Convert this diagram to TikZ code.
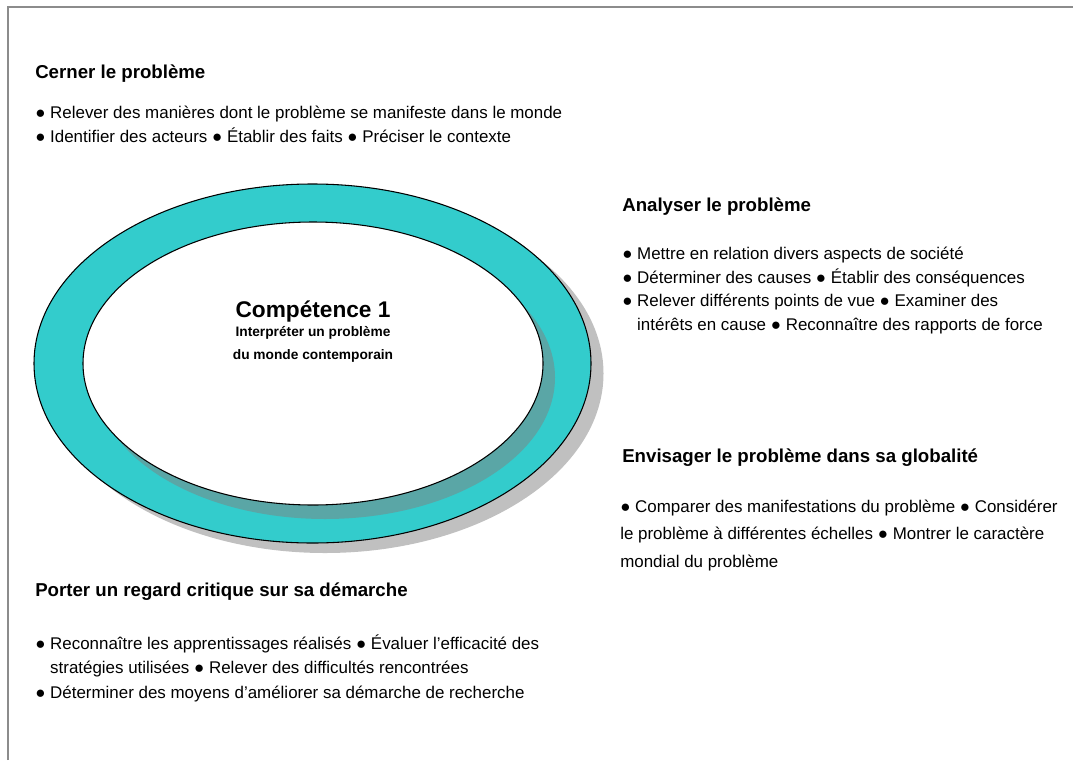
\documentclass[tikz,border=0pt]{standalone}
\usepackage{fontspec}
\setmainfont{Liberation Sans}
\usepackage{tikz}
\definecolor{ringteal}{RGB}{51,204,204}
\definecolor{ringshade}{RGB}{90,166,166}
\definecolor{dropgray}{RGB}{192,192,192}
\definecolor{framegray}{RGB}{140,140,140}
\newcommand{\puce}{●\ }
\newcommand{\retrait}{\hphantom{●\ }}
\tikzstyle{heading}=[anchor=base west,inner sep=0pt,font=\fontsize{14}{17}\selectfont\bfseries]
\tikzstyle{item}=[anchor=base west,inner sep=0pt,font=\fontsize{12.7}{16}\selectfont]
\tikzstyle{ring} = [draw=black,line width=0.8pt]

\begin{document}
\begin{tikzpicture}[x=0.75pt,y=-0.75pt]
  \useasboundingbox (0,0) rectangle (1073,760);
  \draw[framegray,line width=1.5pt] (8,760) -- (8,7) -- (1073,7);
  % the ring and its shadows
  \fill[dropgray] (325,373.5) ellipse [x radius=278.5,y radius=179.5];
  \filldraw[ring,fill=ringteal] (312.5,363.5) ellipse [x radius=278.5,y radius=179.5];
  \fill[ringshade] (325,377.5) ellipse [x radius=230,y radius=141.5];
  \filldraw[ring,fill=white] (313,363.5) ellipse [x radius=230,y radius=141.5];
  \node[font=\fontsize{17}{20}\selectfont\bfseries] (comp) at (313,312) {Compétence 1};
  \node[font=\fontsize{10.3}{12}\selectfont\bfseries] (interp) at (313,333) {Interpréter un problème};
  \node[font=\fontsize{10.3}{12}\selectfont\bfseries] (monde) at (313,355.5) {du monde contemporain};
  % the four blocks
  \node[heading] (cerner) at (35,78) {Cerner le problème};
  \foreach \ligne [count=\i from 0] in {
      {\puce Relever des manières dont le problème se manifeste dans le monde},
      {\puce Identifier des acteurs \puce Établir des faits \puce Préciser le contexte}}
    \node[item] (cerner-\i) at (35,118+24.5*\i) {\ligne};
  \node[heading] (analyser) at (622,211) {Analyser le problème};
  \foreach \ligne [count=\i from 0] in {
      {\puce Mettre en relation divers aspects de société},
      {\puce Déterminer des causes \puce Établir des conséquences},
      {\puce Relever différents points de vue \puce Examiner des},
      {\retrait intérêts en cause \puce Reconnaître des rapports de force}}
    \node[item] (analyser-\i) at (622,259.5+23.5*\i) {\ligne};
  \node[heading] (envisager) at (622,462) {Envisager le problème dans sa globalité};
  \foreach \ligne [count=\i from 0] in {
      {\puce Comparer des manifestations du problème \puce Considérer},
      {le problème à différentes échelles \puce Montrer le caractère},
      {mondial du problème}}
    \node[item] (envisager-\i) at (620,512+27.5*\i) {\ligne};
  \node[heading] (porter) at (35,596) {Porter un regard critique sur sa démarche};
  \foreach \ligne [count=\i from 0] in {
      {\puce Reconnaître les apprentissages réalisés \puce Évaluer l’efficacité des},
      {\retrait stratégies utilisées \puce Relever des difficultés rencontrées},
      {\puce Déterminer des moyens d’améliorer sa démarche de recherche}}
    \node[item] (porter-\i) at (35,649+24.5*\i) {\ligne};
\end{tikzpicture}
\end{document}
